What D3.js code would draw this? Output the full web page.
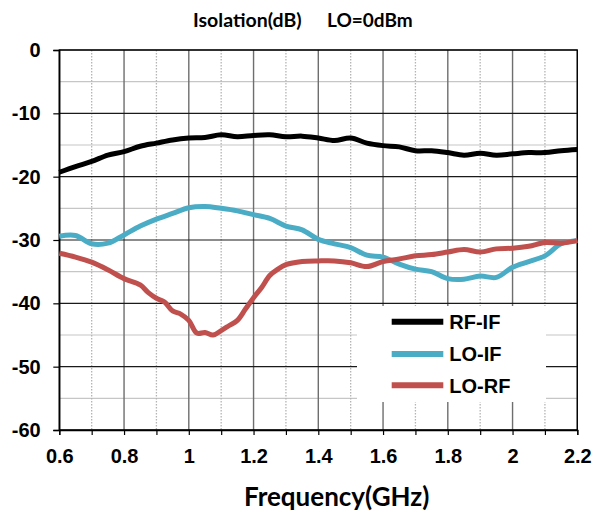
<!DOCTYPE html>
<html>
<head>
<meta charset="utf-8">
<script src="https://cdn.jsdelivr.net/npm/d3@7"></script>
<style>
  html, body { margin: 0; padding: 0; background: #fff; }
  svg { display: block; }
</style>
</head>
<body>
<svg id="chart" width="594" height="512"></svg>
<script>
// ---- Data ----
const freq = [0.60,0.65,0.70,0.75,0.80,0.85,0.90,0.95,1.00,1.05,1.10,1.15,1.20,1.25,1.30,1.35,1.40,
              1.45,1.50,1.55,1.60,1.65,1.70,1.75,1.80,1.85,1.90,1.95,2.00,2.05,2.10,2.15,2.20];
const rfIf = [-19.3,-18.4,-17.6,-16.6,-16.05,-15.2,-14.7,-14.2,-13.9,-13.8,-13.4,-13.7,-13.5,-13.4,-13.7,-13.6,-13.9,
              -14.3,-13.9,-14.7,-15.1,-15.3,-15.9,-15.9,-16.2,-16.6,-16.3,-16.6,-16.4,-16.2,-16.2,-15.9,-15.7];
const loIf = [-29.4,-29.3,-30.6,-30.5,-29.2,-27.8,-26.7,-25.8,-24.9,-24.7,-25.0,-25.4,-26.0,-26.6,-27.8,-28.4,-29.9,
              -30.6,-31.2,-32.4,-32.7,-33.8,-34.6,-35.0,-36.1,-36.2,-35.7,-35.9,-34.3,-33.4,-32.5,-30.6,-30.1];
const loRfFreq = [0.60,0.65,0.70,0.75,0.80,0.85,0.875,0.90,0.925,0.95,0.975,1.00,1.025,1.05,1.075,1.10,1.125,1.15,1.175,
                  1.20,1.225,1.25,1.275,1.30,1.35,1.40,1.45,1.50,1.55,1.60,1.65,1.70,1.75,1.80,1.85,1.90,1.95,2.00,2.05,2.10,2.15,2.20];
const loRf = [-32.1,-32.7,-33.5,-34.7,-36.1,-37.1,-38.3,-39.2,-39.8,-41.2,-41.7,-42.7,-44.7,-44.6,-45.0,-44.3,-43.5,-42.7,-40.9,
              -39.1,-37.5,-35.6,-34.6,-33.9,-33.4,-33.3,-33.3,-33.6,-34.2,-33.4,-33.0,-32.5,-32.3,-31.9,-31.5,-31.9,-31.4,-31.3,-31.0,-30.4,-30.5,-30.1];

const seriesNames = ["RF-IF", "LO-IF", "LO-RF"];
const seriesColors = ["#000000", "#4bacc6", "#c0504d"];
const xTicks = [0.6,0.7,0.8,0.9,1.0,1.1,1.2,1.3,1.4,1.5,1.6,1.7,1.8,1.9,2.0,2.1,2.2];
const yTicks = [0,-10,-20,-30,-40,-50,-60];
const yMinorGrid = [-5,-15,-25,-35,-45,-55];
const titleLeft = "Isolation(dB)";
const titleRight = "LO=0dBm";
const xTitle = "Frequency(GHz)";

// ---- Layout ----
const svg = d3.select("#chart");
const L = 59.3, R = 577.3, T = 50, B = 430;
const x = d3.scaleLinear().domain([0.6, 2.2]).range([L, R]);
const y = d3.scaleLinear().domain([-60, 0]).range([B, T]);

const isMajorX = v => Math.abs(Math.round(v * 10) % 2) === 0;

// grid: minor horizontal
svg.append("g").selectAll("line").data(yMinorGrid).join("line")
  .attr("x1", L).attr("x2", R).attr("y1", d => y(d)).attr("y2", d => y(d))
  .attr("stroke", "#c6c6c6").attr("stroke-width", 1.2);
// grid: minor vertical dotted
svg.append("g").selectAll("line").data(xTicks.filter(v => !isMajorX(v))).join("line")
  .attr("x1", d => x(d)).attr("x2", d => x(d)).attr("y1", T).attr("y2", B)
  .attr("stroke", "#b4b4b4").attr("stroke-width", 1.3).attr("stroke-dasharray", "1.5,1.5");
// grid: major vertical
svg.append("g").selectAll("line").data(xTicks.filter(v => isMajorX(v))).join("line")
  .attr("x1", d => x(d)).attr("x2", d => x(d)).attr("y1", T).attr("y2", B)
  .attr("stroke", "#6e6e6e").attr("stroke-width", 1.4);
// grid: major horizontal
svg.append("g").selectAll("line").data(yTicks).join("line")
  .attr("x1", L).attr("x2", R).attr("y1", d => y(d)).attr("y2", d => y(d))
  .attr("stroke", "#1a1a1a").attr("stroke-width", 1.1);

// border
svg.append("rect").attr("x", L).attr("y", T).attr("width", R - L).attr("height", B - T)
  .attr("fill", "none").attr("stroke", "#000").attr("stroke-width", 1.3);

// axes
const xAxis = d3.axisBottom(x).tickValues(xTicks).tickSize(5).tickPadding(13.5)
  .tickFormat(d => isMajorX(d) ? d3.format("~g")(d) : "");
const gx = svg.append("g").attr("transform", `translate(0,${B})`).call(xAxis);
gx.select(".domain").attr("stroke", "#000").attr("stroke-width", 1.3);
gx.selectAll(".tick line").attr("stroke", "#000").attr("stroke-width", 1.2);
gx.selectAll("text").attr("font-family", "'Liberation Sans', Arial, sans-serif")
  .attr("font-weight", "bold").attr("font-size", 20).attr("fill", "#000");

const yAxis = d3.axisLeft(y).tickValues(yTicks).tickSize(6).tickPadding(12.6)
  .tickFormat(d => String(d));
const gy = svg.append("g").attr("transform", `translate(${L},0)`).call(yAxis);
gy.select(".domain").attr("stroke", "#000").attr("stroke-width", 1.3);
gy.selectAll(".tick line").attr("stroke", "#000").attr("stroke-width", 1.2);
gy.selectAll("text").attr("font-family", "'Liberation Sans', Arial, sans-serif")
  .attr("font-weight", "bold").attr("font-size", 20).attr("fill", "#000");

// series
const series = [
  { name: seriesNames[0], color: seriesColors[0], xs: freq, ys: rfIf },
  { name: seriesNames[1], color: seriesColors[1], xs: freq, ys: loIf },
  { name: seriesNames[2], color: seriesColors[2], xs: loRfFreq, ys: loRf }
];
const line = d3.line().x(d => x(d[0])).y(d => y(d[1])).curve(d3.curveCatmullRom.alpha(0.5));
svg.append("g").selectAll("path").data(series).join("path")
  .attr("d", s => line(s.xs.map((f, i) => [f, s.ys[i]])))
  .attr("fill", "none").attr("stroke", s => s.color).attr("stroke-width", 5)
  .attr("stroke-linejoin", "round").attr("stroke-linecap", "butt");

// legend
const lg = svg.append("g");
lg.append("rect").attr("x", 357).attr("y", 306).attr("width", 189).attr("height", 96).attr("fill", "#fff");
const legY = [321.7, 354, 385.3];
series.forEach((s, i) => {
  lg.append("line").attr("x1", 391.7).attr("x2", 443.3).attr("y1", legY[i]).attr("y2", legY[i])
    .attr("stroke", s.color).attr("stroke-width", 6);
  lg.append("text").attr("x", 449.3).attr("y", legY[i] + 7.2).text(s.name)
    .attr("font-family", "'Liberation Sans', Arial, sans-serif").attr("font-weight", "bold")
    .attr("font-size", 20).attr("fill", "#000");
});

// titles
svg.append("text").attr("x", 193).attr("y", 27.3).text(titleLeft)
  .attr("font-family", "Lato, 'Open Sans', sans-serif").attr("font-weight", "bold").attr("font-size", 19.5).attr("fill", "#000");
svg.append("text").attr("x", 327).attr("y", 27.3).text(titleRight)
  .attr("font-family", "Lato, 'Open Sans', sans-serif").attr("font-weight", "bold").attr("font-size", 19).attr("fill", "#000");
svg.append("text").attr("x", 336.7).attr("y", 506).attr("text-anchor", "middle").text(xTitle)
  .attr("font-family", "Lato, 'Open Sans', sans-serif").attr("font-weight", "bold").attr("font-size", 26).attr("fill", "#000");
</script>
</body>
</html>
